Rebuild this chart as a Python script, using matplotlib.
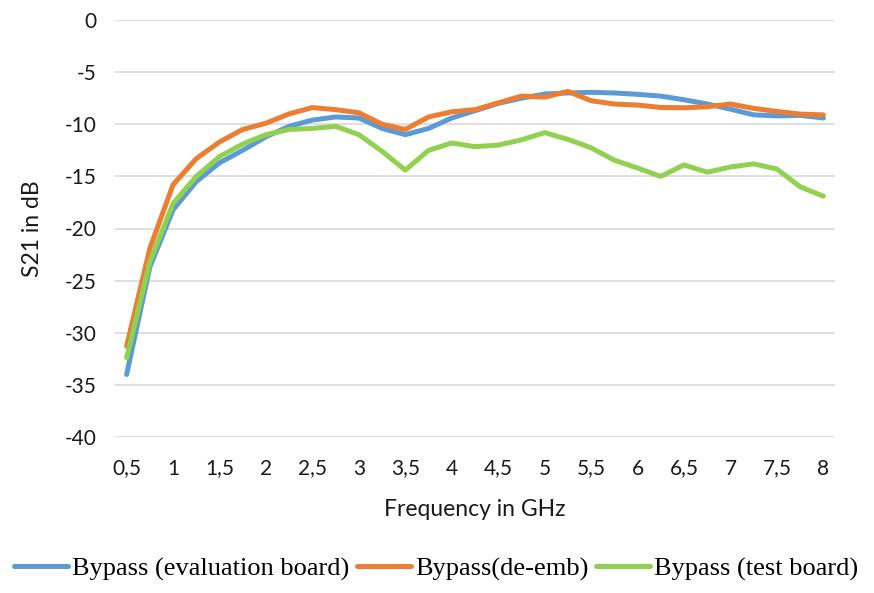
import numpy as np
import matplotlib
matplotlib.use('Agg')
import matplotlib.pyplot as plt

# Frequency sweep in GHz (0.25 GHz steps)
freq = [0.5, 0.75, 1.0, 1.25, 1.5, 1.75, 2.0, 2.25, 2.5, 2.75, 3.0, 3.25, 3.5, 3.75,
        4.0, 4.25, 4.5, 4.75, 5.0, 5.25, 5.5, 5.75, 6.0, 6.25, 6.5, 6.75, 7.0, 7.25,
        7.5, 7.75, 8.0]

# S21 in dB
s21_eval = [-34.0, -23.7, -18.2, -15.5, -13.7, -12.5, -11.2, -10.2, -9.6, -9.3, -9.4,
            -10.4, -11.0, -10.4, -9.4, -8.7, -8.0, -7.5, -7.1, -7.0, -6.94, -7.0, -7.13,
            -7.3, -7.65, -8.06, -8.55, -9.1, -9.2, -9.15, -9.4]
s21_deemb = [-31.3, -21.9, -15.8, -13.3, -11.7, -10.5, -9.9, -9.0, -8.4, -8.6, -8.9,
             -10.0, -10.5, -9.3, -8.8, -8.6, -7.95, -7.3, -7.4, -6.85, -7.74, -8.06, -8.16,
             -8.39, -8.42, -8.32, -8.06, -8.48, -8.77, -9.03, -9.1]
s21_test = [-32.4, -23.2, -17.6, -15.0, -13.1, -11.9, -11.0, -10.5, -10.4, -10.2, -11.0,
            -12.6, -14.4, -12.5, -11.8, -12.15, -12.0, -11.5, -10.8, -11.45, -12.26, -13.45,
            -14.2, -15.0, -13.9, -14.6, -14.1, -13.8, -14.3, -16.0, -16.9]

xticks = [0.5, 1, 1.5, 2, 2.5, 3, 3.5, 4, 4.5, 5, 5.5, 6, 6.5, 7, 7.5, 8]
yticks = [0, -5, -10, -15, -20, -25, -30, -35, -40]

plt.rcParams['font.family'] = ['Lato', 'DejaVu Sans']

fig = plt.figure(figsize=(8.74, 5.93), dpi=100)
ax = fig.add_axes([115 / 874, 1 - 437 / 593, 720 / 874, 417 / 593])

ax.plot(freq, s21_eval, color='#5B9BD5', lw=3.6, solid_capstyle='round',
        label='Bypass (evaluation board)')
ax.plot(freq, s21_deemb, color='#ED7D31', lw=3.6, solid_capstyle='round',
        label='Bypass(de-emb)')
ax.plot(freq, s21_test, color='#92D050', lw=3.6, solid_capstyle='round',
        label='Bypass (test board)')

ax.set_xlim(0.375, 8.125)
ax.set_ylim(-40, 0)
ax.set_xticks(xticks)
ax.set_xticklabels([f'{t:g}'.replace('.', ',') for t in xticks])
ax.set_yticks(yticks)
ax.set_yticklabels([f'{t:g}' for t in yticks])

ax.grid(axis='y', color='#d9d9d9', lw=1.2)
ax.set_axisbelow(True)
for s in ax.spines.values():
    s.set_visible(False)
ax.tick_params(axis='both', length=0, labelsize=15, colors='#1a1a1a')
ax.tick_params(axis='x', pad=15.5)
ax.tick_params(axis='y', pad=13)

ax.set_xlabel('Frequency in GHz', fontsize=16.5, color='#1a1a1a', labelpad=14.5)
ax.set_ylabel('S21 in dB', fontsize=16.5, color='#1a1a1a', labelpad=16)

fig.legend(loc='center', bbox_to_anchor=(436 / 874, 1 - 569 / 593), ncol=3,
           frameon=False, handlelength=2.05, handletextpad=0.15, columnspacing=0.3,
           borderpad=0, prop={'family': 'Liberation Serif', 'size': 19})

fig.savefig('out.png', dpi=100)
